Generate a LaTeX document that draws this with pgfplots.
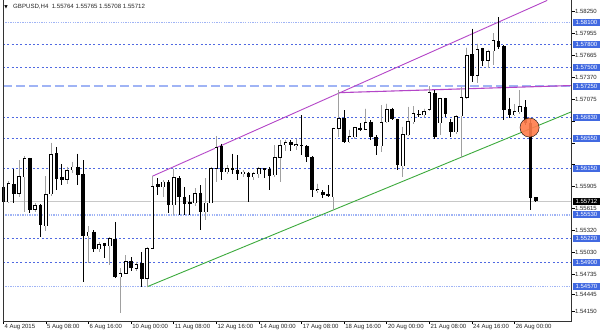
\documentclass[border=0pt]{standalone}
\usepackage{fontspec}
\setmainfont{Liberation Sans}
\newfontfamily\dejavu{DejaVu Sans}
\usepackage{pgfplots}
\pgfplotsset{compat=1.18}
\usepackage{pgfplotstable}

\definecolor{mtblue}{RGB}{65,105,225}
\definecolor{lvldark}{RGB}{80,105,225}
\definecolor{lvllight}{RGB}{160,180,245}
\definecolor{tlpurple}{RGB}{180,70,200}
\definecolor{tlgreen}{RGB}{60,170,60}
\definecolor{circ}{RGB}{255,125,75}
\definecolor{wickgray}{RGB}{160,160,160}
\definecolor{bidgray}{RGB}{200,200,200}

\pgfplotstableread{
i o h l c
0 1.55904 1.55927 1.55673 1.55704
1 1.55704 1.55980 1.55691 1.55949
2 1.55940 1.56149 1.55691 1.55816
3 1.55816 1.56260 1.55771 1.56047
4 1.56037 1.56313 1.55571 1.56283
5 1.56283 1.56296 1.55557 1.55593
6 1.55603 1.55683 1.55571 1.55660
7 1.55660 1.55673 1.55237 1.55393
8 1.55380 1.56047 1.55317 1.55807
9 1.55807 1.56491 1.55780 1.56340
10 1.56349 1.56437 1.55860 1.56016
11 1.56037 1.56207 1.55927 1.56003
12 1.56003 1.56171 1.55940 1.56127
13 1.56127 1.56237 1.56083 1.56171
14 1.56171 1.56349 1.55927 1.56060
15 1.56069 1.56260 1.54637 1.55247
16 1.55247 1.55380 1.54891 1.55304
17 1.55304 1.55327 1.55037 1.55083
18 1.55073 1.55171 1.55037 1.55140
19 1.55149 1.55157 1.54949 1.55113
20 1.55113 1.55237 1.54860 1.55216
21 1.55203 1.55437 1.54693 1.54704
22 1.54704 1.54816 1.54222 1.54749
23 1.54749 1.54993 1.54740 1.54913
24 1.54917 1.54963 1.54784 1.54824
25 1.54816 1.54904 1.54784 1.54873
26 1.54883 1.55037 1.54563 1.54683
27 1.54683 1.55104 1.54571 1.55083
28 1.55083 1.56047 1.55080 1.55913
29 1.55936 1.56016 1.55793 1.55904
30 1.55904 1.55993 1.55771 1.55971
31 1.55971 1.55993 1.55557 1.55660
32 1.55660 1.56149 1.55527 1.56029
33 1.56016 1.56047 1.55527 1.55771
34 1.55771 1.55904 1.55527 1.55683
35 1.55704 1.55793 1.55527 1.55673
36 1.55691 1.55883 1.55647 1.55816
37 1.55824 1.55927 1.55327 1.55571
38 1.55571 1.56016 1.55460 1.55691
39 1.55691 1.56171 1.55683 1.56149
40 1.56149 1.56580 1.55971 1.56437
41 1.56447 1.56483 1.55993 1.56104
42 1.56104 1.56193 1.56073 1.56149
43 1.56157 1.56349 1.56073 1.56136
44 1.56127 1.56327 1.55993 1.56073
45 1.56073 1.56127 1.56037 1.56104
46 1.56091 1.56104 1.55704 1.56037
47 1.56037 1.56104 1.55993 1.56083
48 1.56073 1.56171 1.56016 1.56149
49 1.56149 1.56149 1.56016 1.56127
50 1.56136 1.56171 1.55860 1.56047
51 1.56060 1.56460 1.56037 1.56296
52 1.56296 1.56527 1.55971 1.56460
53 1.56460 1.56536 1.56384 1.56504
54 1.56504 1.56527 1.56384 1.56460
55 1.56447 1.56549 1.56393 1.56469
56 1.56460 1.56860 1.56327 1.56451
57 1.56447 1.56460 1.56237 1.56304
58 1.56304 1.56313 1.55763 1.55860
59 1.55851 1.55949 1.55816 1.55869
60 1.55837 1.55860 1.55749 1.55793
61 1.55803 1.55927 1.55771 1.55780
62 1.55771 1.56696 1.55593 1.56683
63 1.56683 1.57193 1.56571 1.56816
64 1.56816 1.56927 1.56493 1.56504
65 1.56504 1.56669 1.56491 1.56580
66 1.56571 1.56704 1.56549 1.56696
67 1.56691 1.56757 1.56651 1.56669
68 1.56669 1.56949 1.56660 1.56771
69 1.56771 1.56793 1.56527 1.56571
70 1.56563 1.56593 1.56327 1.56447
71 1.56447 1.56993 1.56371 1.56771
72 1.56771 1.57016 1.56757 1.56936
73 1.56936 1.56963 1.56803 1.56816
74 1.56807 1.56816 1.56127 1.56193
75 1.56180 1.56704 1.56037 1.56603
76 1.56593 1.56971 1.56587 1.56784
77 1.56771 1.56980 1.56749 1.56883
78 1.56873 1.56927 1.56837 1.56873
79 1.56860 1.56949 1.56837 1.56917
80 1.56936 1.57247 1.56917 1.57171
81 1.57157 1.57193 1.56549 1.56571
82 1.56757 1.57091 1.56593 1.57083
83 1.57083 1.57096 1.56837 1.56883
84 1.56763 1.56816 1.56571 1.56637
85 1.56637 1.56860 1.56607 1.56847
86 1.56847 1.57237 1.56296 1.57096
87 1.57096 1.57763 1.57083 1.57660
88 1.57673 1.58016 1.57304 1.57393
89 1.57393 1.57816 1.57291 1.57736
90 1.57749 1.57763 1.57513 1.57593
91 1.57593 1.57736 1.57496 1.57717
92 1.57717 1.57957 1.57527 1.57860
93 1.57851 1.58171 1.57749 1.57780
94 1.57780 1.57793 1.56803 1.56936
95 1.56936 1.57096 1.56829 1.56860
96 1.56860 1.57007 1.56847 1.56917
97 1.56904 1.57193 1.56883 1.56980
98 1.56971 1.57060 1.56727 1.56757
99 1.56757 1.56816 1.55593 1.55764
100 1.55764 1.55765 1.55708 1.55712
}\candles

\pgfplotsset{
  lvlD/.style={lvldark, line width=0.8bp, dash pattern=on 2bp off 2.3bp, forget plot},
  lvlL/.style={lvllight, line width=1.3bp, dash pattern=on 1.3bp off 1.1bp, forget plot},
  errbase/.style={draw=none, mark=none, forget plot,
     error bars/.cd, y dir=minus, y explicit, error mark=none},
}
\tikzset{
  lblbox/.style={anchor=west, inner sep=0pt, minimum width=27.2bp, minimum height=7bp,
     text=white, font=\fontsize{6bp}{7bp}\selectfont, xshift=0.9bp},
}

\begin{document}
\begin{tikzpicture}
\fill[white] (0,0) rectangle (600bp,333bp);
\begin{axis}[
  at={(2.3bp,12bp)}, anchor=south west,
  width=569.4bp, height=321bp, scale only axis,
  xmin=-0.05, xmax=106.72,
  ymin=1.54113, ymax=1.58393,
  axis line style={draw=none},
  clip=false,
  xtick={0,8,...,96},
  xticklabels={4 Aug 2015,5 Aug 08:00,6 Aug 16:00,10 Aug 00:00,11 Aug 08:00,12 Aug 16:00,14 Aug 00:00,17 Aug 08:00,18 Aug 16:00,20 Aug 00:00,21 Aug 08:00,24 Aug 16:00,26 Aug 00:00},
  ytick={1.58250,1.57955,1.57665,1.57370,1.57075,1.56785,1.56490,1.56200,1.55905,1.55615,1.55320,1.55030,1.54735,1.54473,1.54247},
  yticklabels={1.58250,1.57955,1.57665,1.57370,1.57075,,,,1.55905,1.55615,1.55320,1.55030,1.54735,1.54445,1.54150},
  xtick pos=bottom, ytick pos=right, yticklabel pos=right,
  tick align=outside,
  major tick length=3.2bp,
  tick style={black, line width=0.7bp},
  ticklabel style={font=\fontsize{6bp}{7bp}\selectfont, inner sep=0pt, text=black!85},
  xticklabel style={anchor=north west, xshift=1bp},
  yticklabel style={anchor=west},
]
% level lines
\addplot[lvlD] coordinates {(-0.05,1.578) (106.72,1.578)};
\addplot[lvlD] coordinates {(-0.05,1.575) (106.72,1.575)};
\addplot[lvlD] coordinates {(-0.05,1.5683) (106.72,1.5683)};
\addplot[lvlD] coordinates {(-0.05,1.5655) (106.72,1.5655)};
\addplot[lvlD] coordinates {(-0.05,1.5615) (106.72,1.5615)};
\addplot[lvlD] coordinates {(-0.05,1.5522) (106.72,1.5522)};
\addplot[lvlD] coordinates {(-0.05,1.549) (106.72,1.549)};
\addplot[lvlL] coordinates {(-0.05,1.581) (106.72,1.581)};
\addplot[lvlL] coordinates {(-0.05,1.5553) (106.72,1.5553)};
\addplot[lvlL] coordinates {(-0.05,1.5457) (106.72,1.5457)};
\addplot[lvllight, line width=1.2bp, dash pattern=on 9bp off 4bp, forget plot] coordinates {(-0.05,1.5725) (106.72,1.5725)};
\addplot[bidgray, line width=1bp, forget plot] coordinates {(-0.05,1.55712) (106.72,1.55712)};
% trend lines
\addplot[tlgreen, line width=0.9bp, forget plot] coordinates {(27,1.54571) (106.72,1.56908)};
\addplot[tlpurple, line width=0.9bp, forget plot] coordinates {(28,1.56047) (102.1,1.58393)};
\addplot[tlpurple, line width=1.1bp, forget plot] coordinates {(63,1.57162) (106.72,1.57257)};
% circle
\addplot[only marks, mark=*, mark size=9.6bp, mark options={fill=circ, draw=none, fill opacity=0.9}, forget plot] coordinates {(98.8,1.56696)};
% wicks
\addplot[errbase, error bar style={draw=black, line width=1bp, line cap=butt, solid}]
  table[x=i, y=h, y error minus expr={\thisrow{h}-\thisrow{l}}] {\candles};
\addplot[errbase, error bar style={draw=wickgray, line width=1bp, line cap=butt, solid}]
  table[x=i, y=h, y error minus expr={(\thisrow{c}>\thisrow{o})*(\thisrow{h}-\thisrow{l})}] {\candles};
% bodies
\addplot[errbase, error bar style={draw=black, line width=3.6bp, line cap=butt, solid}]
  table[x=i, y expr={max(\thisrow{o},\thisrow{c})+0.00003}, y error minus expr={abs(\thisrow{c}-\thisrow{o})+0.00006}] {\candles};
\addplot[errbase, error bar style={draw=white, line width=2bp, line cap=butt, solid}]
  table[x=i, y expr={max(\thisrow{o},\thisrow{c})-0.00008}, y error minus expr={(\thisrow{c}>\thisrow{o})*max(\thisrow{c}-\thisrow{o}-0.0001,0)}] {\candles};
% frame
\draw[black!80, line width=0.8bp] (rel axis cs:0,1) -- (rel axis cs:0,0) -- (rel axis cs:1,0) -- (rel axis cs:1,1);
% price boxes
\node[lblbox, fill=mtblue] at (axis cs:106.72,1.581) {1.58100};
\node[lblbox, fill=mtblue] at (axis cs:106.72,1.578) {1.57800};
\node[lblbox, fill=mtblue] at (axis cs:106.72,1.575) {1.57500};
\node[lblbox, fill=mtblue] at (axis cs:106.72,1.5725) {1.57250};
\node[lblbox, fill=mtblue] at (axis cs:106.72,1.5683) {1.56830};
\node[lblbox, fill=mtblue] at (axis cs:106.72,1.5655) {1.56550};
\node[lblbox, fill=mtblue] at (axis cs:106.72,1.5615) {1.56150};
\node[lblbox, fill=mtblue] at (axis cs:106.72,1.5553) {1.55530};
\node[lblbox, fill=mtblue] at (axis cs:106.72,1.5522) {1.55220};
\node[lblbox, fill=mtblue] at (axis cs:106.72,1.549) {1.54900};
\node[lblbox, fill=mtblue] at (axis cs:106.72,1.5457) {1.54570};
\node[lblbox, fill=black] at (axis cs:106.72,1.55712) {1.55712};
% title
\node[anchor=west, inner sep=0pt, font=\dejavu\fontsize{4.5bp}{5bp}\selectfont] at (rel axis cs:0,1) [xshift=1.2bp, yshift=-6.7bp] {▼};
\node[anchor=west, inner sep=0pt, font=\fontsize{6.1bp}{7bp}\selectfont, text=black!85] at (rel axis cs:0,1) [xshift=10bp, yshift=-6.7bp] {GBPUSD,H4\ \ 1.55764 1.55765 1.55708 1.55712};
\end{axis}
\end{tikzpicture}
\end{document}
